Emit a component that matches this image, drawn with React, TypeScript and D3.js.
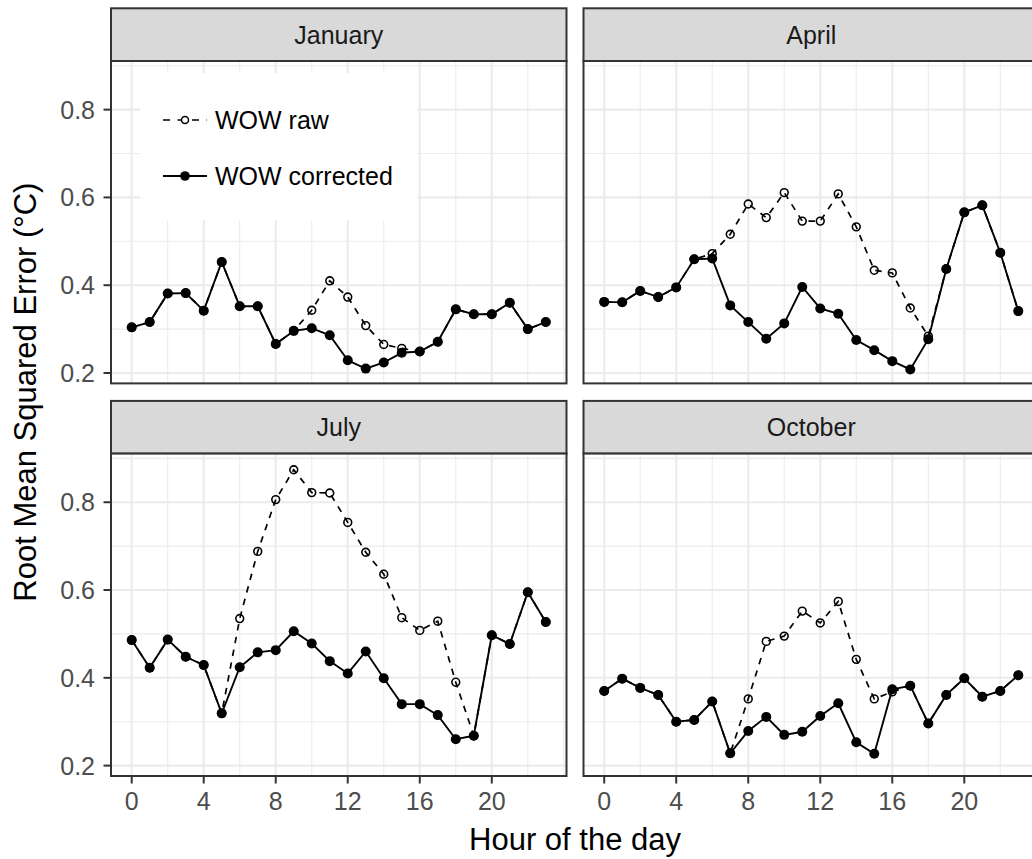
import React, { useEffect, useRef } from 'react';
import * as d3 from 'd3';

const hours = [0, 1, 2, 3, 4, 5, 6, 7, 8, 9, 10, 11, 12, 13, 14, 15, 16, 17, 18, 19, 20, 21, 22, 23];
const months = ['January', 'April', 'July', 'October'];

// RMSE values, one per hour
const janCorrected = [0.304, 0.316, 0.381, 0.382, 0.342, 0.453, 0.352, 0.352, 0.266, 0.296, 0.302, 0.286, 0.229, 0.210, 0.224, 0.246, 0.249, 0.271, 0.345, 0.334, 0.334, 0.360, 0.300, 0.316];
const janRaw = [0.304, 0.316, 0.381, 0.382, 0.342, 0.453, 0.352, 0.352, 0.266, 0.296, 0.343, 0.410, 0.373, 0.308, 0.265, 0.256, 0.249, 0.271, 0.345, 0.334, 0.334, 0.360, 0.300, 0.316];
const aprCorrected = [0.362, 0.361, 0.387, 0.373, 0.395, 0.459, 0.461, 0.354, 0.316, 0.278, 0.313, 0.396, 0.347, 0.335, 0.275, 0.252, 0.227, 0.208, 0.277, 0.437, 0.566, 0.582, 0.474, 0.341];
const aprRaw = [0.362, 0.361, 0.387, 0.373, 0.395, 0.459, 0.472, 0.516, 0.585, 0.554, 0.611, 0.546, 0.546, 0.608, 0.533, 0.434, 0.428, 0.348, 0.284, 0.437, 0.566, 0.582, 0.474, 0.341];
const julCorrected = [0.486, 0.423, 0.487, 0.448, 0.429, 0.319, 0.424, 0.458, 0.463, 0.506, 0.478, 0.438, 0.410, 0.460, 0.399, 0.340, 0.340, 0.315, 0.260, 0.268, 0.497, 0.477, 0.595, 0.527];
const julRaw = [0.486, 0.423, 0.487, 0.448, 0.429, 0.319, 0.535, 0.688, 0.806, 0.874, 0.822, 0.821, 0.754, 0.686, 0.636, 0.537, 0.508, 0.529, 0.390, 0.268, 0.497, 0.477, 0.595, 0.527];
const octCorrected = [0.370, 0.398, 0.377, 0.361, 0.300, 0.304, 0.346, 0.228, 0.279, 0.311, 0.270, 0.277, 0.313, 0.342, 0.253, 0.227, 0.374, 0.382, 0.296, 0.361, 0.399, 0.357, 0.370, 0.406];
const octRaw = [0.370, 0.398, 0.377, 0.361, 0.300, 0.304, 0.346, 0.228, 0.352, 0.483, 0.495, 0.552, 0.525, 0.574, 0.442, 0.352, 0.368, 0.382, 0.296, 0.361, 0.399, 0.357, 0.370, 0.406];

const rawByMonth = [janRaw, aprRaw, julRaw, octRaw];
const correctedByMonth = [janCorrected, aprCorrected, julCorrected, octCorrected];

const xTicks = [0, 4, 8, 12, 16, 20];
const xMinor = [2, 6, 10, 14, 18, 22, 24];
const yTicks = [0.2, 0.4, 0.6, 0.8];
const yMinor = [0.3, 0.5, 0.7, 0.9];
const legendLabels = ['WOW raw', 'WOW corrected'];

const App: React.FC = () => {
    const svgRef = useRef<SVGSVGElement>(null);

    useEffect(() => {
        if (!svgRef.current) return;
        const svg = d3.select(svgRef.current);
        svg.selectAll('*').remove();

        const font = '"Liberation Sans", Arial, Helvetica, sans-serif';
        const panelW = 455.5;
        const panelH = 322.4;
        const stripH = 52.7;
        const cols = [111, 583.5];
        const rows = [8.3, 400.9];

        const x = d3.scaleLinear().domain([-1.15, 24.15]).range([0, panelW]);
        const y = d3.scaleLinear().domain([0.1763, 0.9108]).range([panelH, 0]);

        const line = d3.line<number>()
            .x((_, i) => x(hours[i]))
            .y(d => y(d));

        months.forEach((month, m) => {
            const col = m % 2;
            const row = Math.floor(m / 2);
            const left = cols[col];
            const top = rows[row] + stripH;

            // strip
            svg.append('rect')
                .attr('x', left).attr('y', rows[row])
                .attr('width', panelW).attr('height', stripH)
                .attr('fill', '#D9D9D9').attr('stroke', '#333333').attr('stroke-width', 2);
            svg.append('text')
                .attr('x', left + panelW / 2).attr('y', rows[row] + stripH / 2 + 9)
                .attr('text-anchor', 'middle')
                .attr('font-family', font).attr('font-size', 25)
                .attr('fill', '#1A1A1A')
                .text(month);

            const clipId = `clip-${m}`;
            svg.append('clipPath').attr('id', clipId)
                .append('rect').attr('width', panelW).attr('height', panelH);

            const g = svg.append('g').attr('transform', `translate(${left},${top})`);
            g.append('rect').attr('width', panelW).attr('height', panelH).attr('fill', 'white');

            const body = g.append('g').attr('clip-path', `url(#${clipId})`);

            // grid
            body.selectAll('.vminor').data(xMinor).enter().append('line')
                .attr('x1', d => x(d)).attr('x2', d => x(d))
                .attr('y1', 0).attr('y2', panelH)
                .attr('stroke', '#EBEBEB').attr('stroke-width', 1.1);
            body.selectAll('.hminor').data(yMinor).enter().append('line')
                .attr('x1', 0).attr('x2', panelW)
                .attr('y1', d => y(d)).attr('y2', d => y(d))
                .attr('stroke', '#EBEBEB').attr('stroke-width', 1.1);
            body.selectAll('.vmajor').data(xTicks).enter().append('line')
                .attr('x1', d => x(d)).attr('x2', d => x(d))
                .attr('y1', 0).attr('y2', panelH)
                .attr('stroke', '#EBEBEB').attr('stroke-width', 2.1);
            body.selectAll('.hmajor').data(yTicks).enter().append('line')
                .attr('x1', 0).attr('x2', panelW)
                .attr('y1', d => y(d)).attr('y2', d => y(d))
                .attr('stroke', '#EBEBEB').attr('stroke-width', 2.1);

            // raw series (dashed, open circles)
            const raw = rawByMonth[m];
            body.append('path').datum(raw)
                .attr('d', line)
                .attr('fill', 'none').attr('stroke', 'black')
                .attr('stroke-width', 1.7).attr('stroke-dasharray', '6.5,6.5');
            body.selectAll('.rawpt').data(raw).enter().append('circle')
                .attr('cx', (_, i) => x(hours[i])).attr('cy', d => y(d))
                .attr('r', 3.9)
                .attr('fill', 'none').attr('stroke', 'black').attr('stroke-width', 1.6);

            // corrected series (solid, filled circles)
            const cor = correctedByMonth[m];
            body.append('path').datum(cor)
                .attr('d', line)
                .attr('fill', 'none').attr('stroke', 'black').attr('stroke-width', 1.9);
            body.selectAll('.corpt').data(cor).enter().append('circle')
                .attr('cx', (_, i) => x(hours[i])).attr('cy', d => y(d))
                .attr('r', 5).attr('fill', 'black');

            // legend inside the first panel
            if (m === 0) {
                const lg = g.append('g').attr('transform', `translate(${140 - left},${73 - top})`);
                lg.append('rect').attr('width', 277).attr('height', 147).attr('fill', 'white');
                legendLabels.forEach((lab, k) => {
                    const cy = 47 + k * 56;
                    const key = lg.append('g').attr('transform', `translate(23,${cy})`);
                    key.append('line')
                        .attr('x1', 0).attr('x2', 44).attr('y1', 0).attr('y2', 0)
                        .attr('stroke', 'black')
                        .attr('stroke-width', k === 0 ? 1.7 : 1.9)
                        .attr('stroke-dasharray', k === 0 ? '7,7.5' : null);
                    key.append('circle')
                        .attr('cx', 22).attr('cy', 0)
                        .attr('r', k === 0 ? 3.5 : 4.8)
                        .attr('fill', k === 0 ? 'white' : 'black')
                        .attr('stroke', 'black').attr('stroke-width', k === 0 ? 1.5 : 0);
                    lg.append('text')
                        .attr('x', 75).attr('y', cy + 9)
                        .attr('font-family', font).attr('font-size', 25)
                        .attr('fill', 'black')
                        .text(lab);
                });
            }

            // border
            g.append('rect').attr('width', panelW).attr('height', panelH)
                .attr('fill', 'none').attr('stroke', '#333333').attr('stroke-width', 2);

            // y axis on left column
            if (col === 0) {
                g.selectAll('.ytick').data(yTicks).enter().append('line')
                    .attr('x1', -7.5).attr('x2', 0)
                    .attr('y1', d => y(d)).attr('y2', d => y(d))
                    .attr('stroke', '#333333').attr('stroke-width', 2);
                g.selectAll('.ylab').data(yTicks).enter().append('text')
                    .attr('x', -16).attr('y', d => y(d) + 9)
                    .attr('text-anchor', 'end')
                    .attr('font-family', font).attr('font-size', 25)
                    .attr('fill', '#4D4D4D')
                    .text(d => d3.format('.1f')(d));
            }
            // x axis on bottom row
            if (row === 1) {
                g.selectAll('.xtick').data(xTicks).enter().append('line')
                    .attr('x1', d => x(d)).attr('x2', d => x(d))
                    .attr('y1', panelH).attr('y2', panelH + 7.5)
                    .attr('stroke', '#333333').attr('stroke-width', 2);
                g.selectAll('.xlab').data(xTicks).enter().append('text')
                    .attr('x', d => x(d)).attr('y', panelH + 34)
                    .attr('text-anchor', 'middle')
                    .attr('font-family', font).attr('font-size', 25)
                    .attr('fill', '#4D4D4D')
                    .text(d => String(d));
            }
        });

        // axis titles
        svg.append('text')
            .attr('x', (cols[0] + cols[1] + panelW) / 2).attr('y', 850)
            .attr('text-anchor', 'middle')
            .attr('font-family', font).attr('font-size', 31)
            .attr('fill', 'black')
            .text('Hour of the day');
        svg.append('text')
            .attr('transform', `translate(36,${(rows[0] + rows[1] + stripH + panelH) / 2}) rotate(-90)`)
            .attr('text-anchor', 'middle')
            .attr('font-family', font).attr('font-size', 31)
            .attr('fill', 'black')
            .text('Root Mean Squared Error (°C)');
    }, []);

    return (
        <svg ref={svgRef} width={1032} height={859}
            style={{ position: 'absolute', left: 0, top: 0, background: 'white' }} />
    );
};

export default App;
